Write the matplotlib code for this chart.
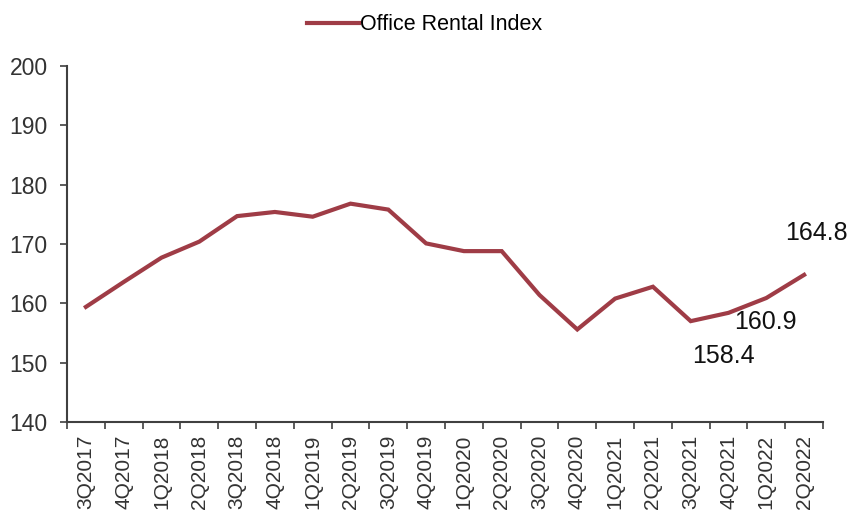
import matplotlib.pyplot as plt

quarters = ['3Q2017', '4Q2017', '1Q2018', '2Q2018', '3Q2018', '4Q2018',
            '1Q2019', '2Q2019', '3Q2019', '4Q2019', '1Q2020', '2Q2020',
            '3Q2020', '4Q2020', '1Q2021', '2Q2021', '3Q2021', '4Q2021',
            '1Q2022', '2Q2022']
rental_index = [159.4, 163.6, 167.7, 170.4, 174.7, 175.4,
                174.6, 176.8, 175.8, 170.1, 168.8, 168.8,
                161.4, 155.6, 160.8, 162.8, 157.0, 158.4,
                160.9, 164.8]

# labelled points: index -> offset of the label in points
labelled = {17: (-3.6, -31), 18: (-0.7, -17.5), 19: (8.6, 30)}

plt.rcParams['font.family'] = ['Liberation Sans', 'DejaVu Sans']

line_color = '#9f3c46'
axis_color = '#404040'

fig = plt.figure(figsize=(8.49, 5.18), dpi=100)
ax = fig.add_axes([0.0789, 0.1853, 0.8905, 0.6873])

x = list(range(len(quarters)))
ax.plot(x, rental_index, color=line_color, lw=3.0, solid_joinstyle='miter',
        label='Office Rental Index')

for i, (dx, dy) in labelled.items():
    ax.annotate(f'{rental_index[i]:.1f}', (i, rental_index[i]),
                xytext=(dx, dy), textcoords='offset points',
                ha='center', va='center', fontsize=18, color='#111111')

ax.set_xlim(-0.5, len(quarters) - 0.5)
ax.set_ylim(140, 200)
ax.set_yticks(range(140, 201, 10))

# tick marks sit between quarters, labels sit on the quarters
ax.set_xticks([i - 0.5 for i in range(len(quarters) + 1)])
ax.set_xticklabels([])
ax.set_xticks(x, minor=True)
ax.set_xticklabels(quarters, minor=True, rotation=90, fontsize=15,
                   color='#333333')
ax.tick_params(axis='x', which='minor', length=0, pad=9)
ax.tick_params(axis='x', which='major', length=5, width=1.2,
               color=axis_color, direction='out')
ax.tick_params(axis='y', length=5, width=1.2, color=axis_color,
               labelsize=16.5, labelcolor='#333333', pad=9)

for side in ('top', 'right'):
    ax.spines[side].set_visible(False)
for side in ('left', 'bottom'):
    ax.spines[side].set_color(axis_color)
    ax.spines[side].set_linewidth(1.5)

fig.legend(loc='upper center', bbox_to_anchor=(0.5, 1.01), frameon=False,
           fontsize=15.5, handlelength=2.4, handletextpad=0.05)

fig.savefig('out.png', dpi=100)
